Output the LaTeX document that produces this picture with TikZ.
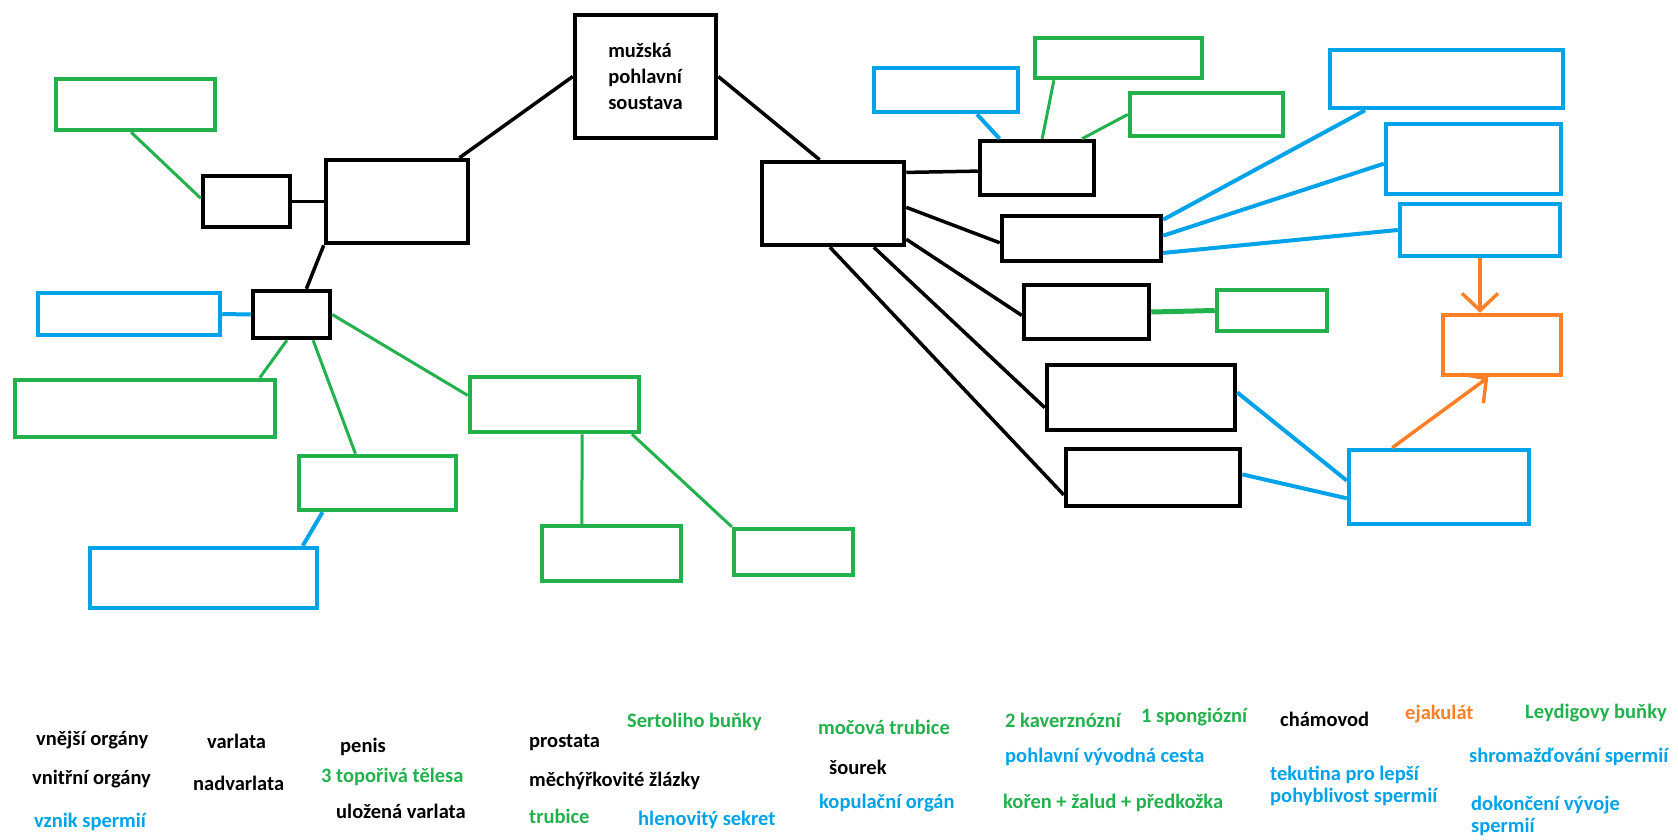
\documentclass[tikz,border=0pt]{standalone}
\usepackage{fontspec}
\setmainfont{Carlito}
\usetikzlibrary{arrows.meta}

\definecolor{pgreen}{HTML}{22B14C}
\definecolor{pblue}{HTML}{00A2E8}
\definecolor{porange}{HTML}{FF7F27}

\tikzset{
  cbox/.style={draw, rectangle, line width=4.5pt, inner sep=0pt},
  bbox/.style={cbox, draw=black},
  gbox/.style={cbox, draw=pgreen},
  ubox/.style={cbox, draw=pblue},
  obox/.style={cbox, draw=porange},
  blink/.style={line width=3.5pt, draw=black},
  glink/.style={line width=3pt, draw=pgreen},
  ulink/.style={line width=4pt, draw=pblue},
  olink/.style={line width=3.5pt, draw=porange, -{Straight Barb[length=17pt,width=36pt,line width=3.5pt]}},
  txt/.style={anchor=west, inner sep=0pt, font=\fontsize{20.5}{22}\selectfont\bfseries, align=left},
}

\begin{document}
\begin{tikzpicture}[x=1pt, y=-1pt]
    \useasboundingbox (0,0) rectangle (1678,839);

    % Root box
    \node[bbox, minimum width=141pt, minimum height=123pt,
          font=\fontsize{20.5}{26}\selectfont\bfseries, align=left]
          (root) at (645.5,76.5) {mužská\\pohlavní\\soustava};

    % Left branch boxes
    \node[bbox, minimum width=142pt, minimum height=83pt] (bBigL) at (397,201.5) {};
    \node[bbox, minimum width=87pt, minimum height=51pt] (bExt) at (246.5,201.5) {};
    \node[gbox, minimum width=159pt, minimum height=51pt] (gTL) at (135.5,104.5) {};
    \node[bbox, minimum width=77pt, minimum height=47pt] (bTest) at (291.5,314.5) {};
    \node[ubox, minimum width=182pt, minimum height=42pt] (uLeft) at (129,314) {};
    \node[gbox, minimum width=260pt, minimum height=57pt] (gWide) at (145,408.5) {};
    \node[gbox, minimum width=157pt, minimum height=54pt] (gMid) at (377.5,483) {};
    \node[ubox, minimum width=227pt, minimum height=60pt] (uBot) at (203.5,578) {};
    \node[gbox, minimum width=169pt, minimum height=55pt] (gRight) at (554.5,404.5) {};
    \node[gbox, minimum width=139pt, minimum height=55pt] (gSmA) at (611.5,553.5) {};
    \node[gbox, minimum width=119pt, minimum height=46pt] (gSmB) at (793.5,552) {};

    % Right branch boxes
    \node[bbox, minimum width=142pt, minimum height=83pt] (bBigR) at (833,203.5) {};
    \node[bbox, minimum width=114pt, minimum height=54pt] (bA) at (1037,168) {};
    \node[ubox, minimum width=144pt, minimum height=44pt] (uA) at (946,90) {};
    \node[gbox, minimum width=167pt, minimum height=40pt] (gA) at (1118.5,58) {};
    \node[gbox, minimum width=153pt, minimum height=43pt] (gB) at (1206.5,114.5) {};
    \node[bbox, minimum width=159pt, minimum height=45pt] (bB) at (1081.5,238.5) {};
    \node[ubox, minimum width=233pt, minimum height=58pt] (uB1) at (1446.5,79) {};
    \node[ubox, minimum width=175pt, minimum height=70pt] (uB2) at (1473.5,159) {};
    \node[ubox, minimum width=160pt, minimum height=52pt] (uB3) at (1480,230) {};
    \node[bbox, minimum width=125pt, minimum height=54pt] (bC) at (1086.5,312) {};
    \node[gbox, minimum width=110pt, minimum height=41pt] (gC) at (1272,310.5) {};
    \node[bbox, minimum width=188pt, minimum height=65pt] (bD) at (1141,397.5) {};
    \node[bbox, minimum width=174pt, minimum height=57pt] (bE) at (1153,477.5) {};
    \node[ubox, minimum width=180pt, minimum height=74pt] (uE) at (1439,487) {};
    \node[obox, minimum width=118pt, minimum height=60pt] (oEj) at (1502,345) {};

    % Black connectors
    \draw[blink] (root.west) -- (bBigL.35);
    \draw[blink] (root.east) -- (bBigR.107);
    \draw[blink] (bExt.east) -- (bBigL.west);
    \draw[blink] (bBigL.south west) -- (bTest.60);
    \draw[blink] (bBigR.23) -- (bA.183);
    \draw[blink] (bBigR.-3) -- (bB.183);
    \draw[blink] (bBigR.-26) -- (bC.183);
    \draw[blink] (bBigR.-47) -- (bD.186);
    \draw[blink] (bBigR.-94) -- (bE.191);

    % Green connectors
    \draw[glink] (gTL.-99) -- (bExt.176);
    \draw[glink] (bTest.-100) -- (gWide.15);
    \draw[glink] (bTest.-50) -- (gMid.127);
    \draw[glink] (bTest.east) -- (gRight.174);
    \draw[glink] (gRight.-47) -- (gSmA.135);
    \draw[glink] (gRight.-21) -- (gSmB.north west);
    \draw[glink] (gA.-161) -- (bA.80);
    \draw[glink] (gB.west) -- (bA.33);
    \draw[glink, line width=5pt] (bC.east) -- (gC.west);

    % Blue connectors
    \draw[ulink] (uLeft.east) -- (bTest.west);
    \draw[ulink] (gMid.-152) -- (uBot.18);
    \draw[ulink] (uA.-38) -- (bA.142);
    \draw[ulink] (bB.13) -- (uB1.-159);
    \draw[ulink] (bB.2) -- (uB2.183);
    \draw[ulink] (bB.-10) -- (uB3.west);
    \draw[ulink] (bD.3) -- (uE.176);
    \draw[ulink] (bE.2) -- (uE.187);

    % Orange arrows
    \draw[olink] (uB3.south) -- (uB3.south |- oEj.north);
    \draw[olink] (uE.140) -- (oEj.-113);

    % Word bank
    \node[txt] (vnejsi) at (36,740) {vnější orgány};
    \node[txt] (vnitrni) at (32,779) {vnitřní orgány};
    \node[txt, text=pblue] (vznik) at (34,822) {vznik spermií};
    \node[txt] (varlata) at (207,741) {varlata};
    \node[txt] (nadvarlata) at (193,783) {nadvarlata};
    \node[txt] (penis) at (340,747) {penis};
    \node[txt, text=pgreen] (topoe) at (321,777) {3 topořivá tělesa};
    \node[txt] (ulozena) at (336,811) {uložená varlata};
    \node[txt] (prostata) at (529,743) {prostata};
    \node[txt] (mechyr) at (529,781) {měchýřkovité žlázky};
    \node[txt, text=pgreen] (trubice) at (529,816) {trubice};
    \node[txt, text=pgreen] (sertoli) at (627,722) {Sertoliho buňky};
    \node[txt, text=pblue] (hlen) at (638,820) {hlenovitý sekret};
    \node[txt, text=pgreen] (mocova) at (818,727) {močová trubice};
    \node[txt] (sourek) at (829,767) {šourek};
    \node[txt, text=pblue] (kopul) at (819,803) {kopulační orgán};
    \node[txt, text=pgreen] (kavern) at (1005,720) {2 kaverznózní};
    \node[txt, text=pgreen] (spong) at (1141,717) {1 spongiózní};
    \node[txt, text=pblue] (vyvod) at (1005,757) {pohlavní vývodná cesta};
    \node[txt, text=pgreen] (koren) at (1003,803) {kořen + žalud + předkožka};
    \node[txt] (chamovod) at (1280,719) {chámovod};
    \node[txt, text=porange] (ejak) at (1405,714) {ejakulát};
    \node[txt, text=pgreen] (leydig) at (1525,713) {Leydigovy buňky};
    \node[txt, text=pblue] (shrom) at (1469,757) {shromažďování spermií};
    \node[txt, text=pblue] (tekut) at (1270,786) {tekutina pro lepší\\pohyblivost spermií};
    \node[txt, text=pblue] (dokon) at (1471,816) {dokončení vývoje\\spermií};

\end{tikzpicture}
\end{document}
